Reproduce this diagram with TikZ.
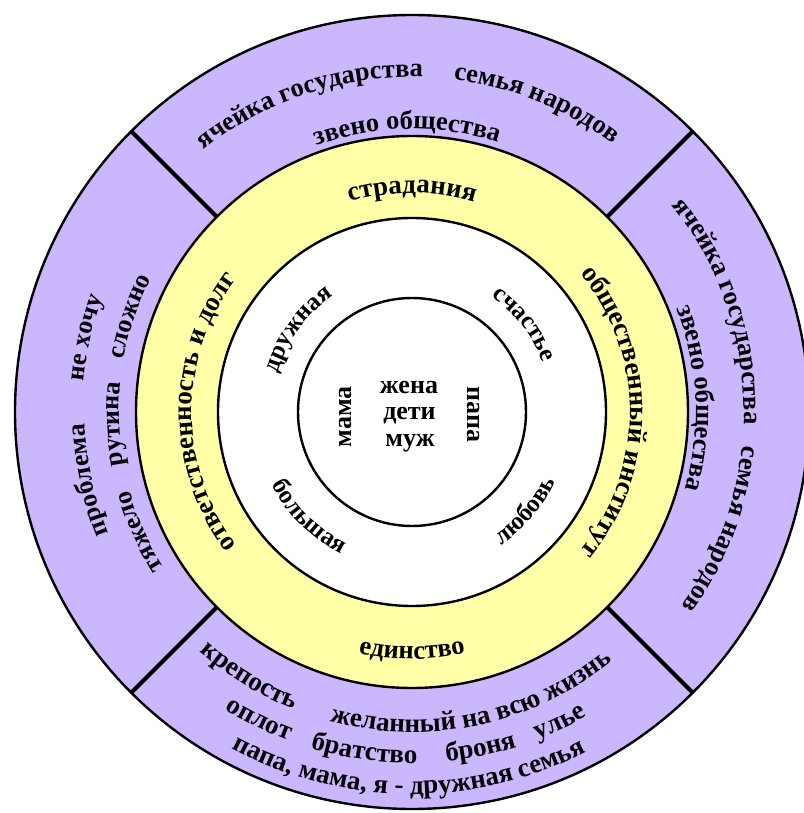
\documentclass[tikz,border=0pt]{standalone}
\usepackage{fontspec}
\setmainfont{Liberation Serif}
\usetikzlibrary{decorations.text}
\definecolor{lav}{RGB}{203,183,254}
\definecolor{pyel}{RGB}{255,255,168}
\tikzset{
  ring/.style={line width=2.4pt},
  divider/.style={line width=4.2pt},
  lbl/.style={font=\bfseries\fontsize{26}{26}\selectfont, inner sep=0pt},
}
% clockwise arc text (tops outward): radius, centre angle, size, text
\newcommand\cwtext[4]{%
  \path[decorate,decoration={text along path,text align=center,
    text={|\bfseries\fontsize{#3}{#3}\selectfont|#4}}]
    ({#2+70}:#1) arc[start angle={#2+70},end angle={#2-70},radius=#1];}
% counter-clockwise arc text (tops inward)
\newcommand\ccwtext[4]{%
  \path[decorate,decoration={text along path,text align=center,
    text={|\bfseries\fontsize{#3}{#3}\selectfont|#4}}]
    ({#2-70}:#1) arc[start angle={#2-70},end angle={#2+70},radius=#1];}
\begin{document}
\begin{tikzpicture}[x=1pt,y=1pt]
\useasboundingbox (-412,-401) rectangle (391,412);
\fill[white] (-412,-401) rectangle (391,412);
% rings
\filldraw[ring, fill=lav] (0,0) circle[radius=397];
\foreach \a in {45,135,225,315} \draw[divider] (\a:270) -- (\a:397);
\filldraw[ring, fill=pyel] (0,0) circle[radius=276];
\filldraw[ring, fill=white] (0,0) circle[radius=194];
\draw[ring] (0,0) circle[radius=114];
% centre
\node[lbl, anchor=base] (zhena) at (-3,18.7) {жена};
\node[lbl, anchor=base] (deti) at (-2.5,-8) {дети};
\node[lbl, anchor=base] (muzh) at (-2,-34.7) {муж};
\node[lbl, rotate=90] (mama) at (-66,-5) {мама};
\node[lbl, rotate=-90] (papa) at (61.5,-2.5) {папа};
% white ring
\cwtext{140}{144}{25}{дружная}
\cwtext{140}{38}{25}{счастье}
\ccwtext{158}{225.5}{25}{большая}
\ccwtext{160}{319}{25}{любовь}
% yellow ring
\cwtext{219}{90}{27}{страдания}
\ccwtext{247}{270}{26.5}{единство}
\cwtext{220}{180}{27}{ответственность и долг}
\cwtext{218}{0}{27}{общественный институт}
% purple top
\cwtext{335}{108.3}{26.5}{ячейка государства}
\cwtext{335}{68}{26.5}{семья народов}
\cwtext{283}{91}{26.5}{звено общества}
% purple right
\cwtext{332}{18.2}{26.5}{ячейка государства}
\cwtext{332}{-20.8}{26.5}{семья народов}
\cwtext{284}{2.8}{26.5}{звено общества}
% purple left
\cwtext{327}{191.9}{26}{проблема}
\cwtext{330}{167.1}{26}{не хочу}
\cwtext{293}{203.7}{26}{тяжело}
\cwtext{293}{182.3}{26}{рутина}
\cwtext{293}{161.3}{26}{сложно}
% purple bottom
\ccwtext{320}{238.4}{27}{крепость}
\ccwtext{320}{282}{27}{желанный на всю жизнь}
\ccwtext{351}{243.6}{27}{оплот}
\ccwtext{351}{262}{27}{братство}
\ccwtext{351}{281.5}{27}{броня}
\ccwtext{351}{295.5}{27}{улье}
\ccwtext{382}{269.5}{27}{папа, мама, я - дружная семья}
\end{tikzpicture}
\end{document}
